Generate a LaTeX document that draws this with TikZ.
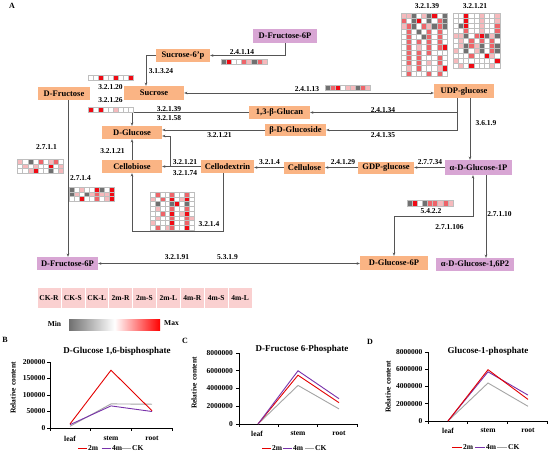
\documentclass[tikz,border=0pt]{standalone}
\usepackage{fontspec}
\setmainfont{Liberation Serif}
\usetikzlibrary{arrows.meta}
\definecolor{nodeor}{RGB}{250,180,132}
\definecolor{nodepu}{RGB}{216,166,212}
\definecolor{hg}{RGB}{112,112,112}
\definecolor{hd}{RGB}{240,10,20}
\definecolor{hr}{RGB}{238,100,105}
\definecolor{hp}{RGB}{246,185,188}
\definecolor{hw}{RGB}{255,255,255}
\definecolor{hgrid}{RGB}{190,190,190}
\definecolor{lnc}{RGB}{85,85,85}
\definecolor{legpink}{RGB}{250,208,208}
\definecolor{cTwo}{RGB}{228,0,0}
\definecolor{cFour}{RGB}{120,50,170}
\definecolor{cCK}{RGB}{165,165,165}
\newcommand{\myNodeFont}{\bfseries\fontsize{8.5}{9}\selectfont}
\newcommand{\myEcFont}{\bfseries\fontsize{7.5}{8}\selectfont}
\newcommand{\myTkFont}{\bfseries\fontsize{7.5}{8}\selectfont}
\newcommand{\myTitleFont}{\bfseries\fontsize{9}{10}\selectfont}
\newcommand{\hmap}[5]{%
  \foreach \rw [count=\j from 0] in {#5} {
    \foreach \cl [count=\i from 0] in \rw {
      \filldraw[fill=h\cl, draw=hgrid, line width=0.3pt] ({#1+\i*#3},{#2+\j*#4}) rectangle ++(#3,#4);
    }
  }
}
\begin{document}
\begin{tikzpicture}[x=1pt,y=-1pt,
  >={Stealth[length=3.2pt,width=2.6pt]},
  obox/.style={fill=nodeor, inner sep=0pt, font=\myNodeFont},
  pbox/.style={fill=nodepu, inner sep=0pt, font=\myNodeFont},
  ec/.style={font=\myEcFont, inner sep=0pt},
  conn/.style={draw=lnc, line width=0.6pt, ->},
  bconn/.style={draw=lnc, line width=0.6pt, <->},
  tk/.style={font=\myTkFont, inner sep=0pt},
  ax/.style={draw=black, line width=0.6pt},
  dl/.style={line width=0.9pt}]
\fill[white] (0,0) rectangle (550,456);
\useasboundingbox (0,0) rectangle (550,456);

\node[font=\bfseries\fontsize{8}{9}\selectfont] (lblA) at (12,6) {A};

% ---------- nodes ----------
\node[pbox, minimum width=64pt, minimum height=14pt] (fru6ptop) at (285,36) {D-Fructose-6P};
\node[obox, minimum width=54pt, minimum height=13pt] (suc6p) at (183,55.5) {Sucrose-6'p};
\node[obox, minimum width=60pt, minimum height=14pt] (suc) at (154,93) {Sucrose};
\node[obox, minimum width=52pt, minimum height=13pt] (fru) at (64,93.5) {D-Fructose};
\node[obox, minimum width=60pt, minimum height=14pt] (udp) at (464,91) {UDP-glucose};
\node[obox, minimum width=61pt, minimum height=13pt] (glucan) at (279.5,112.5) {1,3-β-Glucan};
\node[obox, minimum width=61pt, minimum height=12pt] (glucoside) at (295.5,130) {β-D-Glucoside};
\node[obox, minimum width=60pt, minimum height=13pt] (glc) at (132,132.5) {D-Glucose};
\node[obox, minimum width=60pt, minimum height=13pt] (cbio) at (132,166.5) {Cellobiose};
\node[obox, minimum width=53pt, minimum height=13pt] (cdex) at (227.5,166.5) {Cellodextrin};
\node[obox, minimum width=41pt, minimum height=12pt] (cell) at (304.5,167.5) {Cellulose};
\node[obox, minimum width=56pt, minimum height=12pt] (gdp) at (386,167.5) {GDP-glucose};
\node[pbox, minimum width=67pt, minimum height=15pt] (g1p) at (478.5,167.5) {α-D-Glucose-1P};
\node[pbox, minimum width=78pt, minimum height=13pt] (g16p) at (475,264.5) {α-D-Glucose-1,6P2};
\node[obox, minimum width=68pt, minimum height=14pt] (g6p) at (394,263) {D-Glucose-6P};
\node[pbox, minimum width=61pt, minimum height=13pt] (fru6p) at (67.5,263.5) {D-Fructose-6P};

% ---------- connectors ----------
\draw[conn] (fru6ptop.south) |- (suc6p.east);
\draw[conn] (suc6p.west) -| ([xshift=-8pt]suc.north);
\draw[bconn] (suc.east) -- (suc.east -| udp.west);
\draw[conn] ([xshift=-7pt]udp.south) |- (glucan.east);
\draw[conn] ([xshift=-7pt]udp.south) |- (glucoside.east);
\draw[conn] ([xshift=6pt]udp.south) -- ([xshift=6pt]udp.south |- g1p.north);
\draw[conn] (glucan.west) -| (glc.north);
\draw[conn] (glucoside.west) -- (glucoside.west -| glc.east);
\draw[conn] (cdex.west) -- (cbio.east);
\coordinate (j1) at (170,166.5);
\coordinate (j2) at (170,136);
\draw[conn] (j1) -- (j2) -- (j2 -| glc.east);
\draw[conn] (cbio.north) -- (glc.south);
\draw[conn] ([xshift=-4pt]cdex.south) -- ++(0,58) -| (cbio.south);
\draw[conn] (cell.west) -- (cell.west -| cdex.east);
\draw[conn] (gdp.west) -- (cell.east);
\draw[conn] (g1p.west) -- (g1p.west -| gdp.east);
\draw[conn] ([xshift=7.5pt]g1p.south) -- ([xshift=7.5pt]g1p.south |- g16p.north);
\draw[bconn] (g6p.north) |- ([xshift=-5.5pt,yshift=-41pt]g1p.south) -- ([xshift=-5.5pt]g1p.south);
\draw[conn] ([xshift=4pt]fru.south) -- ([xshift=4pt]fru.south |- fru6p.north);
\draw[bconn] (fru6p.east) -- (fru6p.east -| g6p.west);

% ---------- EC labels ----------
\node[ec] (e1) at (242,52) {2.4.1.14};
\node[ec] (e2) at (161,71) {3.1.3.24};
\node[ec] (e3) at (110.5,87.5) {3.2.1.20};
\node[ec] (e4) at (110.5,100.5) {3.2.1.26};
\node[ec] (e5) at (169,109.5) {3.2.1.39};
\node[ec] (e6) at (169,118) {3.2.1.58};
\node[ec] (e7) at (307,89) {2.4.1.13};
\node[ec] (e8) at (383,110) {2.4.1.34};
\node[ec] (e9) at (383,135.5) {2.4.1.35};
\node[ec] (e10) at (486,123) {3.6.1.9};
\node[ec] (e11) at (219.5,135.5) {3.2.1.21};
\node[ec] (e12) at (112.5,151.5) {3.2.1.21};
\node[ec] (e13) at (185,162) {3.2.1.21};
\node[ec] (e14) at (185,173) {3.2.1.74};
\node[ec] (e15) at (209,224.5) {3.2.1.4};
\node[ec] (e16) at (269.5,162) {3.2.1.4};
\node[ec] (e17) at (343,162.5) {2.4.1.29};
\node[ec] (e18) at (430,162) {2.7.7.34};
\node[ec] (e19) at (499.5,214) {2.7.1.10};
\node[ec] (e20) at (431,211) {5.4.2.2};
\node[ec] (e21) at (449.5,227) {2.7.1.106};
\node[ec] (e22) at (177,257) {3.2.1.91};
\node[ec] (e23) at (227.5,257) {5.3.1.9};
\node[ec] (e24) at (46.5,147.5) {2.7.1.1};
\node[ec] (e25) at (80.5,178) {2.7.1.4};
\node[ec] (e26) at (427,6) {3.2.1.39};
\node[ec] (e27) at (475,6) {3.2.1.21};

% ---------- heatmaps ----------
\hmap{221}{59}{5.1}{5}{{g,d,w,w,r,p,g,r,p}}
\hmap{88}{75}{5}{5}{{w,w,d,w,w,d,w,w,d}}
\hmap{88}{107}{5}{5}{{d,w,d,w,w,p,w,w,w}}
\hmap{325}{85}{5}{5}{{g,r,d,w,p,p,g,r,p}}
\hmap{407}{200.5}{5.1}{5.5}{{g,d,w,g,r,r,p,r,p}}
\hmap{17.5}{159}{5.1}{4.7}{{p,w,g,w,r,w,p,r,w},{w,p,w,p,w,w,d,w,p},{w,w,p,d,w,w,g,w,p}}
\hmap{69}{187}{5}{4.7}{{g,w,p,w,w,d,g,w,d},{g,p,w,g,p,r,p,p,d},{w,w,d,w,w,r,w,p,d}}
\hmap{150}{192}{4.9}{4.75}{{w,r,w,w,r,w,w,r,w},{p,w,r,w,d,w,p,d,w},{w,g,w,w,g,d,w,g,w},{w,p,w,w,r,w,w,r,w},{w,w,r,w,d,w,p,d,w},{w,p,w,w,r,w,w,r,p},{p,w,w,w,d,w,w,r,w},{w,r,w,p,r,w,w,d,w}}
\hmap{401}{13}{5.1}{5.25}{{p,p,g,w,p,g,d,w,g},{r,w,g,d,w,g,w,r,g},{p,r,g,w,r,p,g,r,g},{w,r,w,g,w,r,w,r,w},{w,r,w,w,g,r,w,r,w},{w,r,w,r,w,r,w,r,w},{w,r,w,p,w,r,w,r,d},{w,r,w,r,w,r,w,w,w},{w,r,w,r,w,w,w,r,w},{w,r,w,r,w,p,w,r,w},{w,p,w,r,w,w,w,p,d},{w,r,w,w,w,r,w,r,w}}
\hmap{453}{13}{5.2}{5}{{w,w,d,w,w,p,w,w,p},{w,w,d,w,w,p,w,w,p},{w,g,d,w,w,p,w,w,r},{w,w,r,w,w,p,w,w,r},{p,p,g,w,r,d,g,p,g},{w,p,w,r,w,r,w,r,w},{w,p,g,r,p,g,w,r,g},{p,w,g,w,p,g,w,r,g},{w,w,w,r,w,w,d,p,w},{p,w,w,w,w,w,w,w,d},{w,p,w,d,w,w,w,p,w}}

% ---------- legend ----------
\foreach \lab [count=\k from 0] in {CK-R,CK-S,CK-L,2m-R,2m-S,2m-L,4m-R,4m-S,4m-L} {
  \filldraw[fill=legpink, draw=white, line width=0.6pt] ({37+\k*23.9},287) rectangle ++(23.9,21);
  \node[tk] (leg\k) at ({37+(\k+0.5)*23.9},298) {\lab};
}
\node[tk] (minl) at (54.5,323.5) {Min};
\shade[left color=hg, right color=red, middle color=white] (69,319) rectangle (160,330);
\node[tk] (maxl) at (171.5,323.5) {Max};

% ---------- chart B ----------
\node[font=\bfseries\fontsize{8}{9}\selectfont] (lblB) at (5,340) {B};
\node[font=\myTitleFont] (tB) at (117,351) {D-Glucose 1,6-bisphosphate};
\node[tk, rotate=90] (yB) at (13,388) {Relative content};
\draw[ax] (50,362) -- (50,428) -- (172,428);
\foreach \yy/\tl in {362/200000,378.5/150000,395/100000,411.5/50000,428/0} {
  \draw[ax] (47,\yy) -- (50,\yy);
  \node[tk, anchor=east] at (45.5,\yy) {\tl};
}
\foreach \xx in {50,90.7,131.3,172} \draw[ax] (\xx,428) -- (\xx,431);
\node[tk] (bl1) at (70,438.5) {leaf};
\node[tk] (bl2) at (111,438.5) {stem};
\node[tk] (bl3) at (152,438.5) {root};
\draw[dl, cCK] (70,426.3) -- (111,403.9) -- (152,404.2);
\draw[dl, cFour] (70,424.7) -- (111,405.9) -- (152,411.5);
\draw[dl, cTwo] (70,424) -- (111,370.2) -- (152,410.8);
\draw[dl, cTwo] (78,448) -- (87,448); \node[tk, anchor=west] at (88,448) {2m};
\draw[dl, cFour] (101.5,448) -- (111,448); \node[tk, anchor=west] at (112,448) {4m};
\draw[dl, cCK] (122,448) -- (131,448); \node[tk, anchor=west] at (132,448) {CK};

% ---------- chart C ----------
\node[font=\bfseries\fontsize{8}{9}\selectfont] (lblC) at (185,341) {C};
\node[font=\myTitleFont] (tC) at (302,349) {D-Fructose 6-Phosphate};
\node[tk, rotate=90] (yC) at (194,383) {Relative content};
\draw[ax] (239,353) -- (239,424) -- (357,424);
\foreach \yy/\tl in {353/8000000,370.75/6000000,388.5/4000000,406.25/2000000,424/0} {
  \draw[ax] (236,\yy) -- (239,\yy);
  \node[tk, anchor=east] at (233,\yy) {\tl};
}
\foreach \xx in {239,278.3,317.7,357} \draw[ax] (\xx,424) -- (\xx,427);
\node[tk] (cl1) at (257,433.5) {leaf};
\node[tk] (cl2) at (298,433.5) {stem};
\node[tk] (cl3) at (339,433.5) {root};
\draw[dl, cCK] (258,424) -- (298,385.4) -- (339,408.9);
\draw[dl, cTwo] (258,424) -- (298,375.2) -- (339,402.7);
\draw[dl, cFour] (258,424) -- (298,370.75) -- (339,398.7);
\draw[dl, cTwo] (262,448) -- (271,448); \node[tk, anchor=west] at (272,448) {2m};
\draw[dl, cFour] (283,448) -- (292,448); \node[tk, anchor=west] at (293,448) {4m};
\draw[dl, cCK] (305,448) -- (314,448); \node[tk, anchor=west] at (315,448) {CK};

% ---------- chart D ----------
\node[font=\bfseries\fontsize{8}{9}\selectfont] (lblD) at (370,342) {D};
\node[font=\myTitleFont] (tD) at (488,351) {Glucose-1-phosphate};
\node[tk, rotate=90] (yD) at (388,387) {Relative content};
\draw[ax] (428,352) -- (428,421) -- (547,421);
\foreach \yy/\tl in {352/8000000,369.25/6000000,386.5/4000000,403.75/2000000,421/0} {
  \draw[ax] (425,\yy) -- (428,\yy);
  \node[tk, anchor=east] at (422.5,\yy) {\tl};
}
\foreach \xx in {428,467.7,507.3,547} \draw[ax] (\xx,421) -- (\xx,424);
\node[tk] (dl1) at (448,430.5) {leaf};
\node[tk] (dl2) at (488,430.5) {stem};
\node[tk] (dl3) at (528,430.5) {root};
\draw[dl, cCK] (448,421) -- (488,383) -- (528,406.3);
\draw[dl, cFour] (448,421) -- (488,371.8) -- (528,395.1);
\draw[dl, cTwo] (448,421) -- (488,369.7) -- (528,399.4);
\draw[dl, cTwo] (452,447) -- (462,447); \node[tk, anchor=west] at (463,447) {2m};
\draw[dl, cFour] (475,447) -- (485,447); \node[tk, anchor=west] at (486,447) {4m};
\draw[dl, cCK] (497,447) -- (507,447); \node[tk, anchor=west] at (508,447) {CK};
\end{tikzpicture}
\end{document}
